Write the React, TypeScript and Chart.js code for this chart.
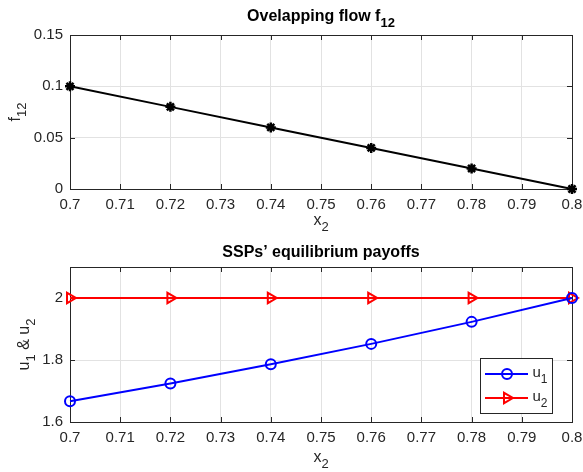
import React, { useEffect, useRef } from "react";
import { Chart, registerables } from "chart.js";
Chart.register(...registerables);

const x2 = [0.7, 0.72, 0.74, 0.76, 0.78, 0.8];
const f12 = [0.1, 0.08, 0.06, 0.04, 0.02, 0];
const u1 = [1.667, 1.724, 1.786, 1.852, 1.923, 2.0];
const u2 = [2, 2, 2, 2, 2, 2];
const xTicks = [0.7, 0.71, 0.72, 0.73, 0.74, 0.75, 0.76, 0.77, 0.78, 0.79, 0.8];
const fTicks = [0, 0.05, 0.1, 0.15];
const uTicks = [1.6, 1.8, 2.0];

const FONT = "'Liberation Sans', Arial, Helvetica, sans-serif";
const TXT = "#262626";

type Part = { t: string; sub?: boolean };

function drawRich(ctx: CanvasRenderingContext2D, parts: Part[], x: number, y: number, size: number, bold: boolean, rotate = false) {
  ctx.save();
  const w = bold ? "bold " : "";
  const main = `${w}${size}px ${FONT}`;
  const sub = `${w}${Math.round(size * 0.8)}px ${FONT}`;
  let total = 0;
  for (const p of parts) {
    ctx.font = p.sub ? sub : main;
    total += ctx.measureText(p.t).width;
  }
  ctx.translate(x, y);
  if (rotate) ctx.rotate(-Math.PI / 2);
  ctx.fillStyle = bold ? "#000" : TXT;
  ctx.textBaseline = "alphabetic";
  ctx.textAlign = "left";
  let cx = -total / 2;
  for (const p of parts) {
    ctx.font = p.sub ? sub : main;
    ctx.fillText(p.t, cx, p.sub ? size * 0.4 : 0);
    cx += ctx.measureText(p.t).width;
  }
  ctx.restore();
}

function boxPlugin(ticksX: number[], ticksY: number[]) {
  return {
    id: "box",
    beforeDatasetsDraw(chart: any) {
      const { ctx, chartArea: a, scales } = chart;
      ctx.save();
      ctx.strokeStyle = TXT;
      ctx.lineWidth = 1;
      ctx.strokeRect(a.left + 0.5, a.top + 0.5, a.right - a.left, a.bottom - a.top);
      ctx.beginPath();
      const L = 5;
      for (const v of ticksX) {
        const px = Math.round(scales.x.getPixelForValue(v)) + 0.5;
        ctx.moveTo(px, a.bottom);
        ctx.lineTo(px, a.bottom - L);
        ctx.moveTo(px, a.top);
        ctx.lineTo(px, a.top + L);
      }
      for (const v of ticksY) {
        const py = Math.round(scales.y.getPixelForValue(v)) + 0.5;
        ctx.moveTo(a.left, py);
        ctx.lineTo(a.left + L, py);
        ctx.moveTo(a.right, py);
        ctx.lineTo(a.right - L, py);
      }
      ctx.stroke();
      ctx.restore();
    },
  };
}

function fmt(v: number) {
  return String(Number(v.toFixed(2)));
}

function makeOptions(yMin: number, yMax: number, yTicks: number[], padTop: number, padBottom: number): any {
  return {
    animation: false,
    responsive: false,
    maintainAspectRatio: false,
    layout: { padding: { left: 0, right: 11, top: padTop, bottom: padBottom } },
    plugins: { legend: { display: false }, tooltip: { enabled: false }, title: { display: false } },
    scales: {
      x: {
        type: "linear",
        min: 0.7,
        max: 0.8,
        afterBuildTicks: (s: any) => { s.ticks = xTicks.map((v) => ({ value: v })); },
        afterFit: (s: any) => { s.height = 40; s.paddingLeft = 0; s.paddingRight = 0; },
        ticks: { font: { family: FONT, size: 15 }, color: TXT, padding: 7, maxRotation: 0, autoSkip: false, callback: (v: number) => fmt(v) },
        grid: { color: "#e2e2e2", drawTicks: false, lineWidth: 1 },
        border: { display: false },
      },
      y: {
        type: "linear",
        min: yMin,
        max: yMax,
        afterBuildTicks: (s: any) => { s.ticks = yTicks.map((v) => ({ value: v })); },
        afterFit: (s: any) => { s.width = 70; s.paddingTop = 0; s.paddingBottom = 0; },
        ticks: { font: { family: FONT, size: 15 }, color: TXT, padding: 7, autoSkip: false, callback: (v: number) => fmt(v) },
        grid: { color: "#e2e2e2", drawTicks: false, lineWidth: 1 },
        border: { display: false },
      },
    },
  };
}

function drawPoint(ctx: CanvasRenderingContext2D, style: string, rotDeg: number, x: number, y: number, r: number, color: string) {
  ctx.save();
  ctx.strokeStyle = color;
  ctx.fillStyle = "#fff";
  ctx.lineWidth = 2;
  ctx.beginPath();
  if (style === "circle") {
    ctx.arc(x, y, r, 0, Math.PI * 2);
  } else {
    const rad = (rotDeg * Math.PI) / 180;
    const rr = r + 1;
    for (let k = 0; k < 3; k++) {
      const ang = rad - Math.PI / 2 + (k * 2 * Math.PI) / 3;
      const px = x + Math.cos(ang) * rr;
      const py = y + Math.sin(ang) * rr;
      if (k === 0) ctx.moveTo(px, py);
      else ctx.lineTo(px, py);
    }
    ctx.closePath();
  }
  ctx.stroke();
  ctx.restore();
}

export default function App() {
  const topRef = useRef<HTMLCanvasElement>(null);
  const botRef = useRef<HTMLCanvasElement>(null);

  useEffect(() => {
    const topText = {
      id: "topText",
      afterDraw(chart: any) {
        const { ctx, chartArea: a } = chart;
        const cx = (a.left + a.right) / 2;
        drawRich(ctx, [{ t: "Ovelapping flow f" }, { t: "12", sub: true }], cx, 21, 16, true);
        drawRich(ctx, [{ t: "x" }, { t: "2", sub: true }], cx, 225, 16, false);
        drawRich(ctx, [{ t: "f" }, { t: "12", sub: true }], 20, (a.top + a.bottom) / 2, 16, false, true);
      },
    };
    const c1 = new Chart(topRef.current!, {
      type: "line",
      data: {
        datasets: [
          {
            label: "f12",
            data: x2.map((x, i) => ({ x, y: f12[i] })),
            borderColor: "#000",
            backgroundColor: "#000",
            borderWidth: 2,
            pointStyle: "star",
            pointRadius: 5,
            pointBorderWidth: 2.5,
            pointBorderColor: "#000",
            clip: false,
          } as any,
        ],
      },
      options: makeOptions(0, 0.15, fTicks, 35, 7),
      plugins: [boxPlugin(xTicks, fTicks), topText],
    });

    const botText = {
      id: "botText",
      afterDraw(chart: any) {
        const { ctx, chartArea: a } = chart;
        const cx = (a.left + a.right) / 2;
        drawRich(ctx, [{ t: "SSPs\u2019 equilibrium payoffs" }], cx, 21, 16, true);
        drawRich(ctx, [{ t: "x" }, { t: "2", sub: true }], cx, 226, 16, false);
        drawRich(ctx, [{ t: "u" }, { t: "1", sub: true }, { t: " & u" }, { t: "2", sub: true }], 29, (a.top + a.bottom) / 2, 16, false, true);
        // legend
        const lx = 480, ly = 122, lw = 72, lh = 55;
        ctx.save();
        ctx.fillStyle = "#fff";
        ctx.fillRect(lx, ly, lw, lh);
        ctx.strokeStyle = TXT;
        ctx.lineWidth = 1;
        ctx.strokeRect(lx + 0.5, ly + 0.5, lw, lh);
        const entries = [
          { color: "#0000ff", style: "circle", rot: 0, n: "1", y: ly + 16 },
          { color: "#ff0000", style: "triangle", rot: 90, n: "2", y: ly + 40 },
        ];
        for (const e of entries) {
          ctx.strokeStyle = e.color;
          ctx.lineWidth = 2;
          ctx.beginPath();
          ctx.moveTo(lx + 5, e.y);
          ctx.lineTo(lx + 48, e.y);
          ctx.stroke();
          drawPoint(ctx, e.style, e.rot, lx + 27, e.y, 5, e.color);
          drawRich(ctx, [{ t: "u" }, { t: e.n, sub: true }], lx + 60, e.y + 3, 15, false);
        }
        ctx.restore();
      },
    };
    const c2 = new Chart(botRef.current!, {
      type: "line",
      data: {
        datasets: [
          {
            label: "u1",
            data: x2.map((x, i) => ({ x, y: u1[i] })),
            borderColor: "#0000ff",
            backgroundColor: "rgba(0,0,0,0)",
            borderWidth: 2,
            pointStyle: "circle",
            pointRadius: 5,
            pointBorderWidth: 2,
            clip: false,
          } as any,
          {
            label: "u2",
            data: x2.map((x, i) => ({ x, y: u2[i] })),
            borderColor: "#ff0000",
            backgroundColor: "rgba(0,0,0,0)",
            borderWidth: 2,
            pointStyle: "triangle",
            pointRotation: 90,
            pointRadius: 6,
            pointBorderWidth: 2,
            clip: false,
          } as any,
        ],
      },
      options: makeOptions(1.6, 2.1, uTicks, 31, 10),
      plugins: [boxPlugin(xTicks, uTicks), botText],
    });
    return () => {
      c1.destroy();
      c2.destroy();
    };
  }, []);

  return (
    <div style={{ position: "absolute", left: 0, top: 0, width: 583, height: 472, background: "#fff" }}>
      <canvas ref={topRef} width={583} height={236} style={{ position: "absolute", left: 0, top: 0 }} />
      <canvas ref={botRef} width={583} height={236} style={{ position: "absolute", left: 0, top: 236 }} />
    </div>
  );
}
